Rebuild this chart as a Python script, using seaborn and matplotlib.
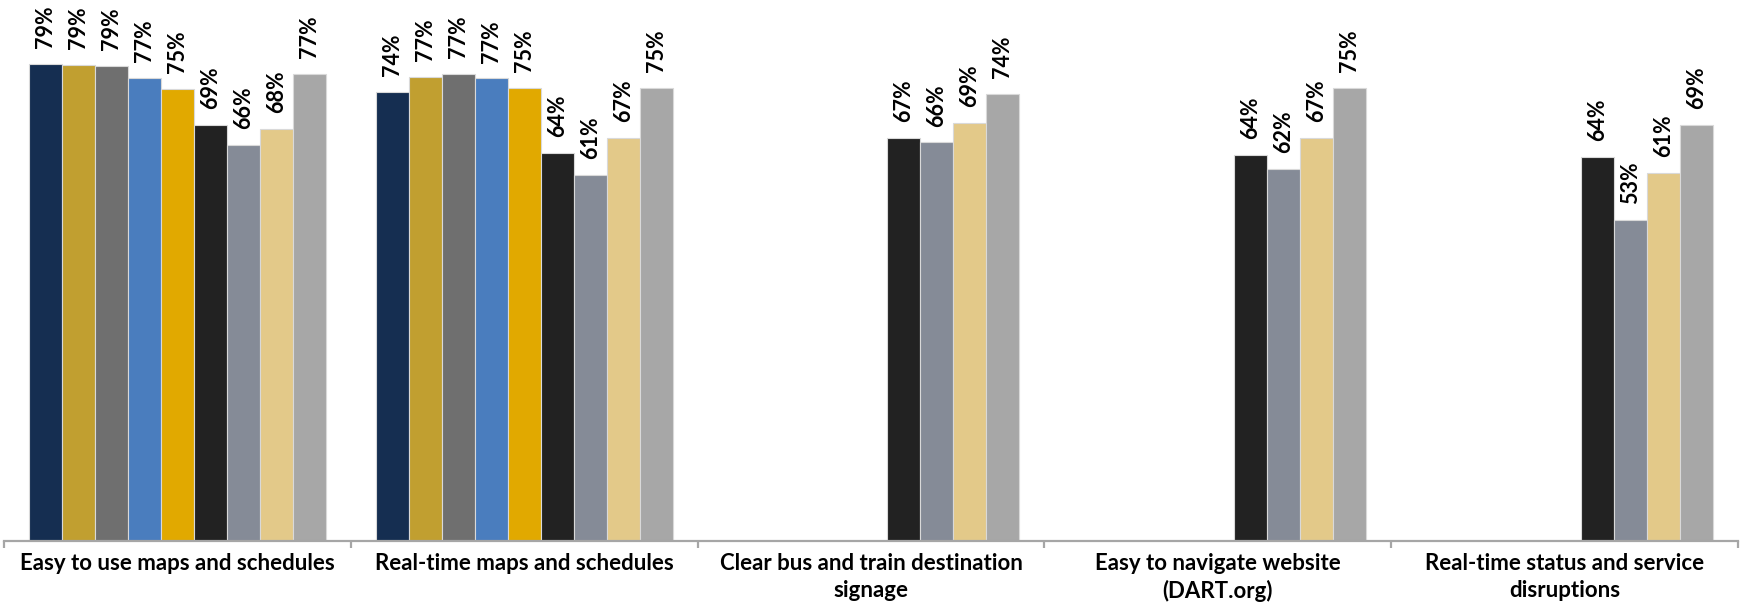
import numpy as np
import pandas as pd
import matplotlib
matplotlib.use("Agg")
import matplotlib.pyplot as plt
import seaborn as sns

# Categories shown along the x axis
categories = [
    "Easy to use maps and schedules",
    "Real-time maps and schedules",
    "Clear bus and train destination\nsignage",
    "Easy to navigate website\n(DART.org)",
    "Real-time status and service\ndisruptions",
]

# Survey groups (one bar colour each)
series = ["S1", "S2", "S3", "S4", "S5", "S6", "S7", "S8", "S9"]

# Share of respondents (%) per category for each group; NaN = not asked
s1 = [79.0, 74.4, np.nan, np.nan, np.nan]
s2 = [78.8, 76.9, np.nan, np.nan, np.nan]
s3 = [78.6, 77.4, np.nan, np.nan, np.nan]
s4 = [76.7, 76.6, np.nan, np.nan, np.nan]
s5 = [74.8, 75.0, np.nan, np.nan, np.nan]
s6 = [68.9, 64.3, 66.8, 64.0, 63.6]
s7 = [65.6, 60.6, 66.0, 61.6, 53.1]
s8 = [68.3, 66.7, 69.2, 66.7, 60.9]
s9 = [77.4, 75.0, 74.0, 75.0, 68.9]

colors = ["#152e51", "#c19f30", "#6f6f6f", "#4a7dbe", "#e1a900",
          "#222222", "#858b97", "#e3c989", "#a7a7a7"]

values = [s1, s2, s3, s4, s5, s6, s7, s8, s9]
rows = []
for name, vals in zip(series, values):
    for cat, v in zip(categories, vals):
        if not np.isnan(v):
            rows.append({"category": cat, "group": name, "value": v})
df = pd.DataFrame(rows)

sns.set_style("white")
plt.rcParams["font.family"] = ["Lato", "DejaVu Sans"]

fig = plt.figure(figsize=(17.44, 6.05), dpi=100)
ax = fig.add_axes([4 / 1744, 64 / 605, 1734 / 1744, 541 / 605])

sns.barplot(
    data=df, x="category", y="value", hue="group",
    order=categories, hue_order=series, palette=colors,
    width=0.856, dodge=True, saturation=1, errorbar=None,
    edgecolor="#d9d9d9", linewidth=0.8, legend=False, ax=ax,
)

for container in ax.containers:
    ax.bar_label(container, fmt="{:.0f}%", rotation=90, padding=11.5,
                 fontsize=15.5, fontweight="bold", color="black")

ax.set_ylim(0, 89.6)
ax.set_xlim(-0.5, len(categories) - 0.5)
ax.set_xlabel("")
ax.set_ylabel("")
ax.set_yticks([])

for side in ["top", "right", "left"]:
    ax.spines[side].set_visible(False)
ax.spines["bottom"].set_color("#a6a6a6")
ax.spines["bottom"].set_linewidth(1.6)

# Category separators as minor ticks below the axis
ax.set_xticks(np.arange(-0.5, len(categories), 1.0), minor=True)
ax.tick_params(axis="x", which="minor", bottom=True, length=5,
               width=1.6, color="#a6a6a6")
ax.tick_params(axis="x", which="major", length=0, pad=9)
for lbl in ax.get_xticklabels():
    lbl.set_fontsize(16)
    lbl.set_fontweight("bold")
    lbl.set_color("black")
    lbl.set_linespacing(1.3)

fig.savefig("out.png", dpi=100)
